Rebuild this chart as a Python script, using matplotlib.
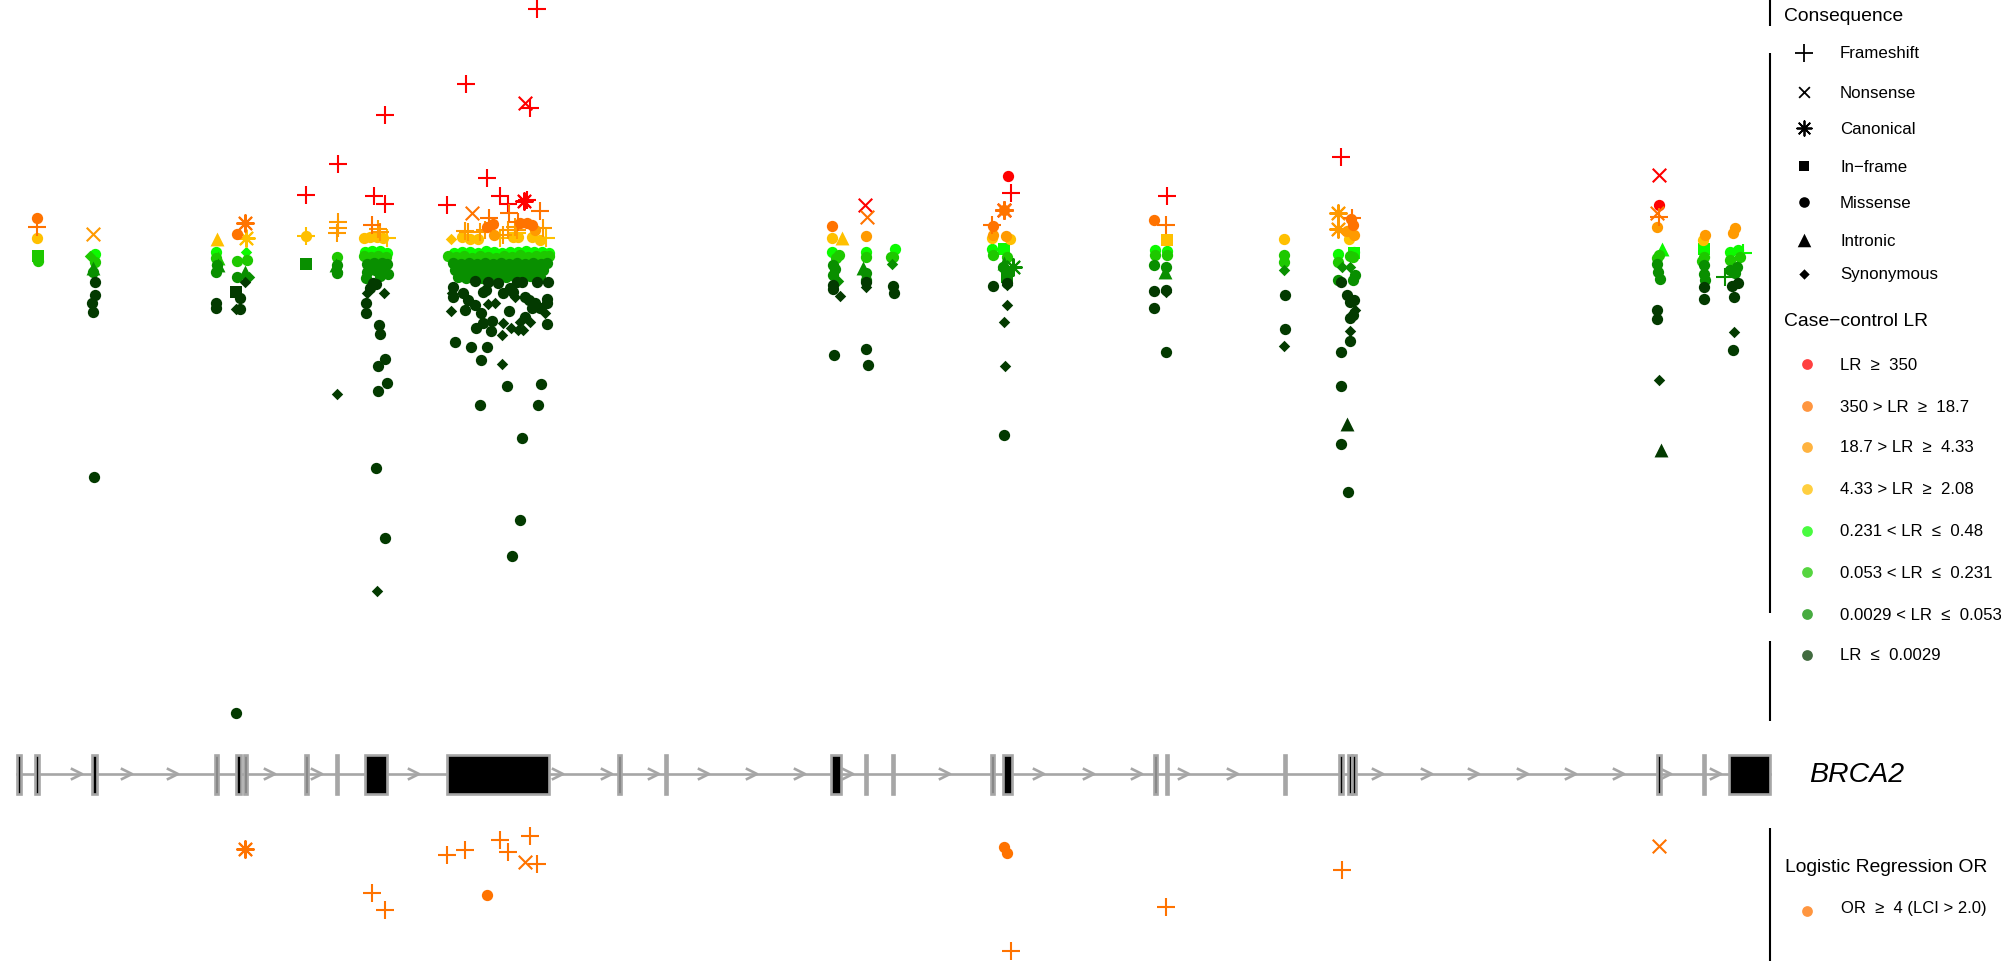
#!/usr/bin/env python3
import matplotlib
matplotlib.use("Agg")
import matplotlib.pyplot as plt
from matplotlib.patches import Rectangle

plt.rcParams["font.family"] = ["Liberation Sans", "DejaVu Sans"]

RED = "#FF0000"
ORANGE = "#FF7300"
AMBER = "#FF9A00"
GOLD = "#FFC000"
LIME = "#0CFA00"
MID = "#1EC800"
DARKG = "#098F00"
DARK = "#033A00"

# variants: (position, score) with score growing downwards
fs_red = [(385, 115), (338, 164), (306, 195), (374, 196), (385, 204), (537, 9), (466, 84),
          (530, 108), (487, 178), (500, 196), (508, 204), (447, 205), (527, 200), (1011, 193), (1167, 196),
          (1341, 157)]
x_red = [(525, 103), (865, 205), (1659, 175)]
can_red = [(524, 201), (1004, 210)]
dot_red = [(1008, 176), (1659, 205)]

dot_orange = [(37, 218), (237, 234), (493, 224), (487, 227), (527, 223), (520, 223), (532, 225), (832, 226),
              (1004, 210), (993, 226), (1154, 220), (1351, 219), (1353, 225)]
fs_orange = [(37, 227), (372, 225), (489, 218), (540, 211), (509, 213), (518, 222), (992, 225), (1166, 225),
             (1352, 218), (1659, 217)]
x_orange = [(472, 213), (867, 217), (1657, 213)]
can_orange = [(245, 223), (1004, 210)]

fs_amber = [(338, 222), (338, 228), (337, 233), (378, 229), (380, 232), (465, 231), (468, 232), (485, 230),
            (480, 232), (517, 230), (508, 230), (543, 228), (515, 227), (503, 235)]
x_amber = [(93, 234)]
can_amber = [(1338, 213), (1338, 229)]
dot_amber = [(494, 235), (535, 230), (866, 236), (993, 235), (1006, 236), (1347, 231), (1354, 235), (1657, 227),
             (1705, 235), (1735, 228), (1733, 233)]

dot_gold = [(37, 238), (306, 236), (364, 238), (370, 237), (377, 237), (383, 238), (470, 239), (462, 237),
            (478, 239), (518, 237), (513, 237), (532, 237), (540, 240), (832, 238), (992, 238), (1010, 239),
            (1284, 239), (1349, 239), (1703, 240)]
fs_gold = [(306, 236), (387, 238), (500, 238), (517, 233), (546, 238)]
dia_gold = [(306, 236), (451, 239)]
tri_gold = [(217, 239), (842, 238)]
can_gold = [(246, 238)]
sq_gold = [(1167, 240)]

dot_lime = [(95, 254), (216, 252), (365, 252), (372, 251), (380, 251), (387, 253), (454, 253), (462, 252),
            (470, 252), (478, 253), (486, 251), (494, 252), (502, 253), (510, 252), (518, 252), (526, 251),
            (534, 252), (542, 252), (549, 253), (832, 252), (866, 252), (895, 249), (992, 249), (1155, 250),
            (1167, 251), (1338, 254), (1354, 252), (1730, 252), (1738, 250)]
sq_lime = [(1004, 249), (1704, 249), (1354, 253)]
dia_lime = [(246, 252)]
tri_lime = [(1662, 249)]
fs_lime = [(1743, 253)]

dot_mid = [(38, 261), (95, 262), (216, 258), (237, 261), (247, 260), (337, 257), (364, 256), (371, 257),
           (378, 256), (386, 257), (448, 256), (456, 257), (464, 256), (472, 258), (480, 256), (488, 257),
           (496, 258), (504, 256), (512, 257), (520, 255), (528, 257), (536, 256), (544, 256), (549, 256),
           (839, 255), (836, 258), (866, 257), (893, 257), (891, 257), (993, 255), (1007, 257), (1155, 255),
           (1167, 255), (1284, 255), (1284, 262), (1338, 262), (1350, 256), (1353, 257), (1659, 255), (1657, 258),
           (1704, 257), (1702, 261), (1730, 260), (1740, 257)]
sq_mid = [(38, 256)]
dia_mid = [(90, 256)]
tri_mid = [(218, 258)]

dot_darkg = [(93, 272), (217, 265), (216, 272), (237, 277), (337, 265), (337, 273), (367, 264), (374, 263),
             (382, 263), (387, 264), (367, 272), (375, 270), (384, 270), (388, 274), (366, 278), (380, 276),
             (453, 263), (461, 264), (469, 263), (477, 264), (485, 263), (493, 264), (501, 263), (509, 264),
             (517, 263), (525, 264), (533, 263), (541, 264), (547, 263), (455, 270), (463, 271), (471, 270),
             (479, 271), (487, 270), (495, 271), (503, 270), (511, 271), (519, 270), (527, 271), (535, 270),
             (543, 270), (458, 277), (466, 278), (474, 277), (482, 278), (490, 277), (498, 276), (506, 277),
             (514, 276), (522, 277), (530, 276), (540, 277),
             (833, 265), (835, 269), (833, 275), (866, 273), (866, 280), (1003, 267), (1007, 273), (1154, 265),
             (1166, 267), (1338, 280), (1355, 275), (1353, 280), (1657, 264), (1658, 272), (1660, 279),
             (1704, 265), (1704, 274), (1705, 280), (1730, 270), (1737, 267), (1735, 273)]
tri_darkg = [(93, 268), (218, 265), (245, 272), (336, 265), (863, 268), (1004, 263), (1165, 272)]
dia_darkg = [(249, 277), (838, 281), (892, 264), (1284, 270), (1342, 267), (1350, 267)]
sq_darkg = [(306, 264), (1007, 277)]
can_darkg = [(1013, 267)]
fs_darkg = [(1725, 277)]

dot_dark = [(95, 282), (95, 295), (92, 303), (93, 312), (94, 477), (216, 303), (216, 308), (240, 298), (240, 309),
            (236, 713), (373, 283), (370, 288), (376, 284), (366, 303), (366, 313), (379, 325), (380, 334),
            (385, 359), (378, 366), (387, 383), (378, 391), (376, 468), (385, 538), (453, 287), (475, 281),
            (488, 282), (483, 292), (498, 283), (503, 293), (517, 282), (522, 282), (513, 292), (525, 297),
            (537, 282), (548, 282), (547, 299), (547, 303), (532, 308), (540, 308), (525, 317), (547, 324),
            (509, 311), (463, 293), (468, 300), (465, 310), (475, 305), (481, 313), (453, 297), (455, 342),
            (471, 347), (487, 347), (481, 360), (476, 328), (483, 323), (492, 321), (491, 331), (507, 386),
            (541, 384), (480, 405), (538, 405), (522, 438), (520, 520), (512, 556), (486, 290), (510, 288),
            (529, 300), (535, 303), (833, 285), (833, 289), (834, 355), (866, 282), (866, 349), (868, 365),
            (893, 286), (894, 293), (993, 286), (1007, 283), (1004, 435), (1154, 291), (1166, 290), (1154, 308),
            (1166, 352), (1285, 295), (1285, 329), (1341, 282), (1347, 295), (1350, 302), (1354, 300),
            (1353, 315), (1350, 318), (1350, 341), (1341, 352), (1341, 386), (1341, 444), (1348, 492),
            (1657, 310), (1657, 319), (1704, 287), (1704, 299), (1732, 286), (1738, 283), (1734, 297), (1733, 350)]
dia_dark = [(245, 282), (236, 309), (337, 394), (367, 293), (384, 293), (377, 591), (451, 311), (452, 293),
            (488, 304), (495, 303), (503, 323), (511, 328), (518, 330), (523, 330), (502, 335), (502, 364),
            (530, 322), (520, 322), (545, 313), (515, 297), (840, 296), (866, 287), (1007, 285), (1007, 305),
            (1004, 322), (1005, 366), (1166, 292), (1284, 346), (1355, 310), (1350, 331), (1659, 380), (1734, 332)]
sq_dark = [(236, 292)]
tri_dark = [(1347, 424), (1661, 450)]

# logistic regression panel below the gene
or_fs = [(447, 855), (465, 850), (500, 840), (508, 852), (530, 836), (537, 864), (372, 893), (385, 910),
         (1011, 951), (1166, 907), (1342, 870)]
or_x = [(525, 862), (1659, 846)]
or_can = [(245, 849)]
or_dot = [(487, 895), (1004, 847), (1007, 853)]

# gene model
exon_left = [17, 35, 92, 215, 236, 244, 305, 336, 365, 447, 618, 665, 831, 865, 892, 991, 1003, 1154, 1166, 1284,
             1339, 1348, 1352, 1657, 1703, 1729]
exon_right = [21, 39, 97, 218, 241, 247, 308, 338, 387, 549, 621, 667, 841, 867, 894, 994, 1012, 1157, 1168, 1286,
              1343, 1352, 1356, 1661, 1705, 1770]
arrow_pos = [79, 129, 175, 272, 319, 416, 560, 609, 656, 706, 754, 802, 850, 947, 1041, 1091, 1139, 1186, 1235,
             1380, 1429, 1476, 1525, 1573, 1621, 1668, 1718]

consequence_labels = ["Frameshift", "Nonsense", "Canonical", "In\u2212frame", "Missense", "Intronic", "Synonymous"]
consequence_y = [53, 92, 128, 166, 202, 240, 274]
lr_labels = ["LR  \u2265  350", "350 > LR  \u2265  18.7", "18.7 > LR  \u2265  4.33", "4.33 > LR  \u2265  2.08",
             "0.231 < LR  \u2264  0.48", "0.053 < LR  \u2264  0.231", "0.0029 < LR  \u2264  0.053", "LR  \u2264  0.0029"]
lr_colors = [RED, ORANGE, AMBER, GOLD, LIME, MID, DARKG, DARK]
lr_y = [364, 406, 447, 489, 531, 572, 614, 655]

fig = plt.figure(figsize=(20.01, 9.61), dpi=100)
ax = fig.add_axes([0, 0, 1, 1])
ax.set_xlim(0, 2001)
ax.set_ylim(961, 0)
ax.axis("off")


def pts(data, marker, color, size, lw=1.5, z=3):
    xs = [p[0] for p in data]
    ys = [p[1] for p in data]
    if marker in ("+", "x", "*"):
        m = (8, 2, 0) if marker == "*" else marker
        ax.scatter(xs, ys, marker=m, s=size, c=color, linewidths=lw, zorder=z)
    else:
        ax.scatter(xs, ys, marker=marker, s=size, c=color, linewidths=0, zorder=z)


S_DOT, S_SQ, S_TRI, S_DIA, S_FS, S_X, S_CAN = 66, 66, 100, 34, 150, 95, 145

# greens light to dark, then the warm ones, same as the layering in the plot
for dots, color, extras in [
    (dot_lime, LIME, [(sq_lime, "s", S_SQ), (dia_lime, "D", S_DIA), (tri_lime, "^", S_TRI), (fs_lime, "+", S_FS)]),
    (dot_mid, MID, [(sq_mid, "s", S_SQ), (dia_mid, "D", S_DIA), (tri_mid, "^", S_TRI)]),
    (dot_darkg, DARKG, [(sq_darkg, "s", S_SQ), (dia_darkg, "D", S_DIA), (tri_darkg, "^", S_TRI),
                        (can_darkg, "*", S_CAN), (fs_darkg, "+", S_FS)]),
    (dot_dark, DARK, [(sq_dark, "s", S_SQ), (dia_dark, "D", S_DIA), (tri_dark, "^", S_TRI)]),
    (dot_red, RED, [(fs_red, "+", S_FS), (x_red, "x", S_X), (can_red, "*", S_CAN)]),
    (dot_gold, GOLD, [(fs_gold, "+", S_FS), (dia_gold, "D", S_DIA), (tri_gold, "^", S_TRI), (can_gold, "*", S_CAN),
                      (sq_gold, "s", S_SQ)]),
    (dot_amber, AMBER, [(fs_amber, "+", S_FS), (x_amber, "x", S_X), (can_amber, "*", S_CAN)]),
    (dot_orange, ORANGE, [(fs_orange, "+", S_FS), (x_orange, "x", S_X), (can_orange, "*", S_CAN)]),
]:
    pts(dots, "o", color, S_DOT)
    for data, marker, size in extras:
        pts(data, marker, color, size)

pts(or_fs, "+", ORANGE, S_FS)
pts(or_x, "x", ORANGE, S_X)
pts(or_can, "*", ORANGE, S_CAN)
pts(or_dot, "o", ORANGE, S_DOT)

# gene track
GREY = "#A6A6A6"
ax.plot([exon_left[0], exon_right[-1]], [774, 774], color=GREY, lw=1.9, zorder=1)
for a in arrow_pos:
    ax.plot([a - 7, a + 3, a - 7], [769, 774, 779], color=GREY, lw=1.9, zorder=1)
for l, r in zip(exon_left, exon_right):
    ax.add_patch(Rectangle((l, 755), r - l, 39, facecolor="black", edgecolor=GREY, lw=1.9, zorder=2))
ax.text(1809, 775, "BRCA2", fontsize=20.5, style="italic", va="center", ha="left")

# legend rails
for y0, y1 in [(0, 26), (53, 613), (641, 721), (828, 961)]:
    ax.plot([1770, 1770], [y0, y1], color="black", lw=1.5, solid_capstyle="butt", zorder=4)

ax.text(1784, 16.5, "Consequence", fontsize=13.9, va="center")
cons_markers = [("+", 150), ("x", 60), ("*", 110), ("s", 56), ("o", 58), ("^", 95), ("D", 28)]
for lab, y, (m, s) in zip(consequence_labels, consequence_y, cons_markers):
    pts([(1804, y)], m, "black", s, lw=1.3)
    ax.text(1840, y + 1, lab, fontsize=12.2, va="center")

ax.text(1784, 321, "Case\u2212control LR", fontsize=13.9, va="center")
for lab, y, c in zip(lr_labels, lr_y, lr_colors):
    ax.scatter([1807], [y], s=60, c=c, alpha=0.75, linewidths=0, zorder=3)
    ax.text(1840, y + 1, lab, fontsize=12.1, va="center")

ax.text(1785, 867, "Logistic Regression OR", fontsize=13.9, va="center")
ax.scatter([1807], [911], s=60, c=ORANGE, alpha=0.75, linewidths=0, zorder=3)
ax.text(1841, 908, "OR  \u2265  4 (LCI > 2.0)", fontsize=12, va="center")

fig.savefig("out.png", dpi=100)
plt.close(fig)
